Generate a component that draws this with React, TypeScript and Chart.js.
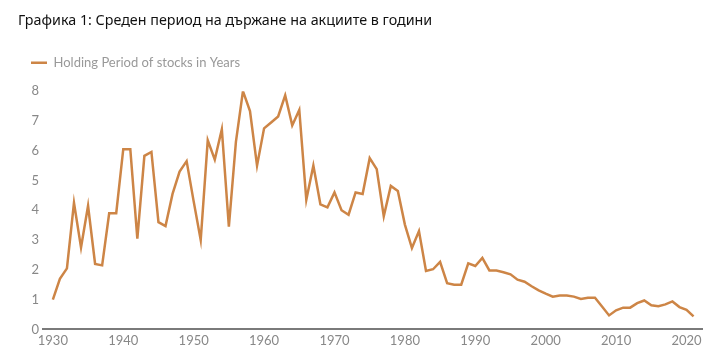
import React, { useEffect, useRef } from "react";
import { Chart, registerables } from "chart.js";

Chart.register(...registerables);

const TITLE = "Графика 1: Среден период на държане на акциите в години";
const SERIES_LABEL = "Holding Period of stocks in Years";

const years: number[] = [
  1930, 1931, 1932, 1933, 1934, 1935, 1936, 1937, 1938, 1939,
  1940, 1941, 1942, 1943, 1944, 1945, 1946, 1947, 1948, 1949,
  1950, 1951, 1952, 1953, 1954, 1955, 1956, 1957, 1958, 1959,
  1960, 1961, 1962, 1963, 1964, 1965, 1966, 1967, 1968, 1969,
  1970, 1971, 1972, 1973, 1974, 1975, 1976, 1977, 1978, 1979,
  1980, 1981, 1982, 1983, 1984, 1985, 1986, 1987, 1988, 1989,
  1990, 1991, 1992, 1993, 1994, 1995, 1996, 1997, 1998, 1999,
  2000, 2001, 2002, 2003, 2004, 2005, 2006, 2007, 2008, 2009,
  2010, 2011, 2012, 2013, 2014, 2015, 2016, 2017, 2018, 2019,
  2020, 2021,
];

const holdingPeriod: number[] = [
  1.0, 1.7, 2.05, 4.25, 2.75, 4.15, 2.2, 2.15, 3.9, 3.9,
  6.05, 6.05, 3.05, 5.83, 5.96, 3.6, 3.47, 4.55, 5.3, 5.65,
  4.3, 3.0, 6.35, 5.7, 6.72, 3.45, 6.3, 8.0, 7.33, 5.5,
  6.75, 6.95, 7.15, 7.86, 6.85, 7.37, 4.35, 5.5, 4.2, 4.1,
  4.6, 4.0, 3.85, 4.6, 4.55, 5.75, 5.38, 3.8, 4.82, 4.65,
  3.52, 2.73, 3.3, 1.96, 2.02, 2.27, 1.55, 1.5, 1.5, 2.22,
  2.13, 2.4, 1.98, 1.98, 1.92, 1.85, 1.67, 1.6, 1.45, 1.31,
  1.2, 1.1, 1.14, 1.14, 1.1, 1.02, 1.06, 1.06, 0.77, 0.47,
  0.64, 0.73, 0.73, 0.88, 0.97, 0.81, 0.78, 0.84, 0.94, 0.75,
  0.66, 0.44,
];

const xTicks: number[] = [1930, 1940, 1950, 1960, 1970, 1980, 1990, 2000, 2010, 2020];
const yTicks: number[] = [0, 1, 2, 3, 4, 5, 6, 7, 8];

const LINE_COLOR = "#CD8546";

const legendSpacer = {
  id: "legendSpacer",
  beforeInit(chart: any) {
    const orig = chart.legend.fit;
    chart.legend.fit = function () {
      orig.bind(this)();
      this.height += 12;
    };
  },
};

export default function App() {
  const ref = useRef<HTMLCanvasElement>(null);
  useEffect(() => {
    if (!ref.current) return;
    const chart = new Chart(ref.current, {
      type: "line",
      data: {
        datasets: [
          {
            label: SERIES_LABEL,
            data: years.map((y, i) => ({ x: y, y: holdingPeriod[i] })),
            borderColor: LINE_COLOR,
            backgroundColor: LINE_COLOR,
            borderWidth: 2.5,
            pointRadius: 0,
            tension: 0,
          },
        ],
      },
      plugins: [legendSpacer],
      options: {
        animation: false,
        responsive: false,
        layout: { padding: { left: 18, top: 12, right: 10, bottom: 4 } },
        plugins: {
          title: {
            display: true,
            text: TITLE,
            align: "start",
            color: "#111",
            font: { family: "'Noto Sans'", size: 14.3, weight: "normal" },
            padding: { top: 0, bottom: 14 },
          },
          legend: {
            display: true,
            align: "start",
            labels: {
              color: "#999",
              font: { family: "Lato", size: 13 },
              boxWidth: 16,
              boxHeight: 2.5,
              padding: 13,
              generateLabels: (c: any) =>
                Chart.defaults.plugins.legend.labels
                  .generateLabels(c)
                  .map((l: any) => ({ ...l, lineWidth: 0, fillStyle: LINE_COLOR })),
            },
          },
          tooltip: { enabled: false },
        },
        scales: {
          x: {
            type: "linear",
            min: 1928.6,
            max: 2022.2,
            grid: { display: false, drawTicks: false },
            border: { display: true, color: "#7a7a7a", width: 2 },
            afterBuildTicks: (scale: any) => {
              scale.ticks = xTicks.map((v) => ({ value: v }));
            },
            ticks: {
              color: "#888",
              font: { family: "Lato", size: 13 },
              padding: 4,
              maxRotation: 0,
              autoSkip: false,
              callback: (v: any) => String(v),
            },
          },
          y: {
            min: 0,
            max: 8,
            grid: { display: false, drawTicks: false },
            border: { display: false },
            afterBuildTicks: (scale: any) => {
              scale.ticks = yTicks.map((v) => ({ value: v }));
            },
            afterFit: (scale: any) => {
              scale.width = 25;
            },
            ticks: {
              color: "#888",
              font: { family: "Lato", size: 13 },
              padding: 4,
            },
          },
        },
      },
    });
    return () => chart.destroy();
  }, []);
  return (
    <div style={{ position: "fixed", left: 0, top: 0, width: 712, height: 357, background: "#fff" }}>
      <canvas ref={ref} width={712} height={357} style={{ width: 712, height: 357 }} />
    </div>
  );
}
